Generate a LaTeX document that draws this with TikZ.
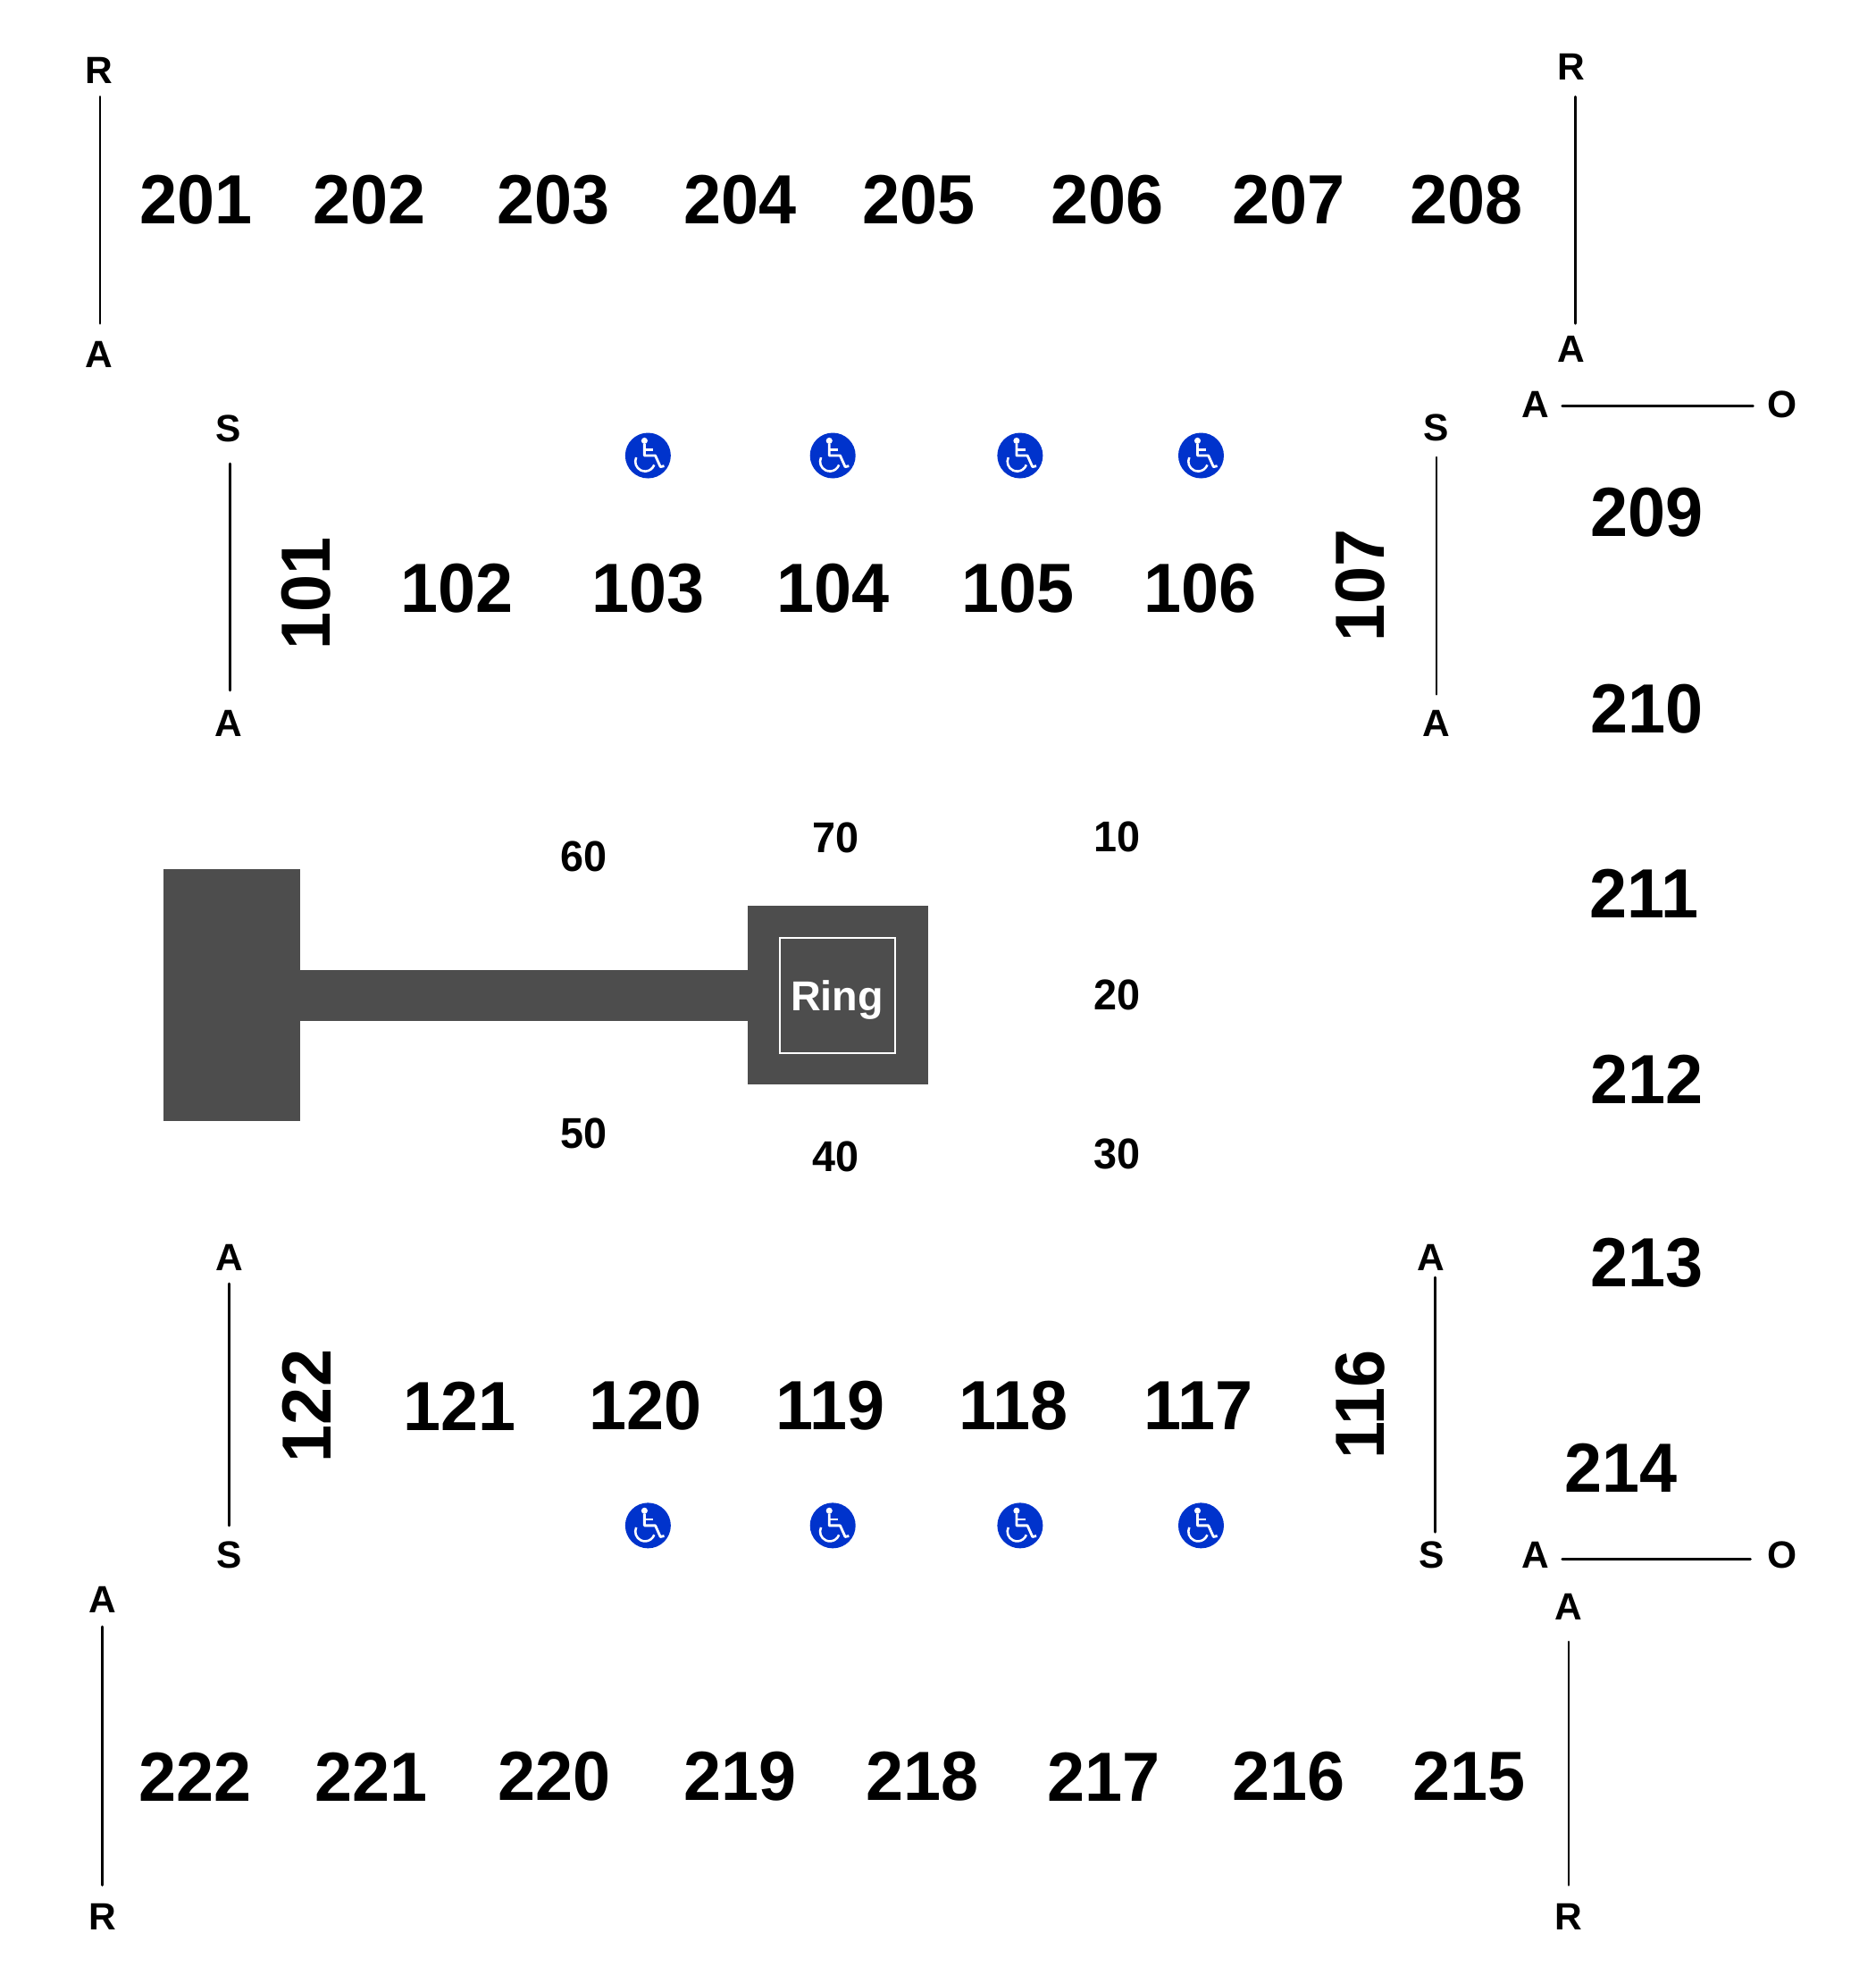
\documentclass[tikz,border=0pt]{standalone}
\usepackage{fontspec}
\setmainfont{Liberation Sans}
\newfontfamily\narrowfont[FakeStretch=0.97]{Liberation Sans}
\tikzset{
  sect/.style={font=\narrowfont\fontsize{27.5}{30}\selectfont\bfseries, inner sep=0pt},
  seat/.style={font=\narrowfont\fontsize{17}{20}\selectfont\bfseries, inner sep=0pt},
  aisle/.style={font=\fontsize{15}{18}\selectfont\bfseries, inner sep=0pt, minimum size=19pt},
  rope/.style={line width=1pt, line cap=round},
  wheelchair/.pic={
    \fill [access] (0,0) circle (18);
    \fill [white] (-2.8,-11.7) circle (2.5);
    \draw [white, line width=1pt, line join=round] (-2.8,-9.3) -- (-2.8,0) -- (5.8,0) -- (9.8,8.9) -- (12.8,8.2);
    \draw [white, line width=0.8pt] (-2.8,-4.6) -- (4.2,-4.6);
    \draw [white, line width=0.9pt] (-9.3,1.45) arc (205:20:7.7);
  }
}
\definecolor{stage}{HTML}{4D4D4D}
\definecolor{access}{HTML}{0033CC}
\begin{document}
\begin{tikzpicture}[x=0.5pt, y=-0.5pt]
\useasboundingbox (0,0) rectangle (1482,1567);
% upper balcony
\node [aisle] (r1) at (78,56) {R};
\node [aisle] (a1) at (78,280) {A};
\draw [rope, shorten <=0.5pt, shorten >=2.5pt] ([xshift=0.5pt]r1.south) -- ([xshift=0.5pt]a1.north);
\node [sect] (s201) at (155,158) {201};
\node [sect] (s202) at (292,158) {202};
\node [sect] (s203) at (437,158) {203};
\node [sect] (s204) at (585,158) {204};
\node [sect] (s205) at (726,158) {205};
\node [sect] (s206) at (875,158) {206};
\node [sect] (s207) at (1018,158) {207};
\node [sect] (s208) at (1159,158) {208};
\node [aisle] (r2) at (1241.5,53) {R};
\node [aisle] (a2) at (1241.5,276) {A};
\draw [rope, shorten <=2pt, shorten >=0.5pt] ([xshift=1.5pt]r2.south) -- ([xshift=1.5pt]a2.north);
% right balcony
\node [aisle] (a3) at (1213,320) {A};
\node [aisle] (o3) at (1408.5,320) {O};
\draw [rope, shorten <=1pt, shorten >=2pt] ([yshift=-0.5pt]a3.east) -- ([yshift=-0.5pt]o3.west);
\node [sect] (s209) at (1301,405) {209};
\node [sect] (s210) at (1301,560) {210};
\node [sect] (s211) at (1299,706) {211};
\node [sect] (s212) at (1301,853) {212};
\node [sect] (s213) at (1301,998) {213};
\node [sect] (s214) at (1281,1160) {214};
\node [aisle] (a4) at (1213,1229) {A};
\node [aisle] (o4) at (1408.5,1229) {O};
\draw [rope, shorten <=1pt, shorten >=3pt] ([yshift=-1.5pt]a4.east) -- ([yshift=-1.5pt]o4.west);
% upper floor
\node [aisle] (s5) at (180.5,339) {S};
\node [aisle] (a5) at (180.5,572) {A};
\draw [rope, shorten <=4pt, shorten >=3.5pt] ([xshift=0.75pt]s5.south) -- ([xshift=0.75pt]a5.north);
\node [sect, rotate=90] (s101) at (242,469) {101};
\node [sect] (s102) at (361,465) {102};
\node [sect] (s103) at (512,465) {103};
\node [sect] (s104) at (658,465) {104};
\node [sect] (s105) at (804,465) {105};
\node [sect] (s106) at (948,465) {106};
\node [sect, rotate=90] (s107) at (1074.5,463) {107};
\node [aisle] (s6) at (1135,338) {S};
\node [aisle] (a6) at (1135,572) {A};
\draw [rope, shorten <=2pt, shorten >=2pt] (s6) -- (a6);
\pic at (512,360) {wheelchair};
\pic at (658,360) {wheelchair};
\pic at (806,360) {wheelchair};
\pic at (949,360) {wheelchair};
% stage
\fill [stage] (129,687) rectangle (237,885.5);
\fill [stage] (237,766.5) rectangle (591,806.5);
\fill [stage] (591,716) rectangle (733.5,857);
\node [draw=white, line width=0.8pt, minimum size=45.5pt, inner sep=0pt, text depth=0pt, text=white, font=\fontsize{16.5}{20}\selectfont\bfseries] (ring) at (661.5,786.5) {Ring};
\node [seat] (n60) at (461,677) {60};
\node [seat] (n70) at (660,662) {70};
\node [seat] (n10) at (883,661) {10};
\node [seat] (n20) at (883,786) {20};
\node [seat] (n30) at (883,912) {30};
\node [seat] (n40) at (660,914) {40};
\node [seat] (n50) at (461,896) {50};
% lower floor
\node [aisle] (a7) at (181,994) {A};
\node [aisle] (s7) at (181,1229) {S};
\draw [rope, shorten <=0.5pt, shorten >=2pt] (a7) -- (s7);
\node [sect, rotate=90] (s122) at (242,1111) {122};
\node [sect] (s121) at (363,1111) {121};
\node [sect] (s120) at (510,1111) {120};
\node [sect] (s119) at (656,1111) {119};
\node [sect] (s118) at (801,1111) {118};
\node [sect] (s117) at (947,1111) {117};
\node [sect, rotate=90] (s116) at (1074.5,1110) {116};
\node [aisle] (a8) at (1131,994) {A};
\node [aisle] (s8) at (1131,1229) {S};
\draw [rope, shorten <=-2pt, shorten >=-0.5pt] ([xshift=1.5pt]a8.south) -- ([xshift=1.5pt]s8.north);
\pic at (512,1205.5) {wheelchair};
\pic at (658,1205.5) {wheelchair};
\pic at (806,1205.5) {wheelchair};
\pic at (949,1205.5) {wheelchair};
% lower balcony
\node [aisle] (a9) at (81,1264) {A};
\node [aisle] (r9) at (81,1515) {R};
\draw [rope, shorten <=1pt, shorten >=3pt] (a9) -- (r9);
\node [sect] (s222) at (154,1404) {222};
\node [sect] (s221) at (293,1404) {221};
\node [sect] (s220) at (438,1404) {220};
\node [sect] (s219) at (585,1404) {219};
\node [sect] (s218) at (729,1404) {218};
\node [sect] (s217) at (872,1404) {217};
\node [sect] (s216) at (1018,1404) {216};
\node [sect] (s215) at (1161,1404) {215};
\node [aisle] (a10) at (1239.5,1270) {A};
\node [aisle] (r10) at (1239.5,1515) {R};
\draw [rope, shorten <=4pt, shorten >=3pt] (a10) -- (r10);
\end{tikzpicture}
\end{document}
